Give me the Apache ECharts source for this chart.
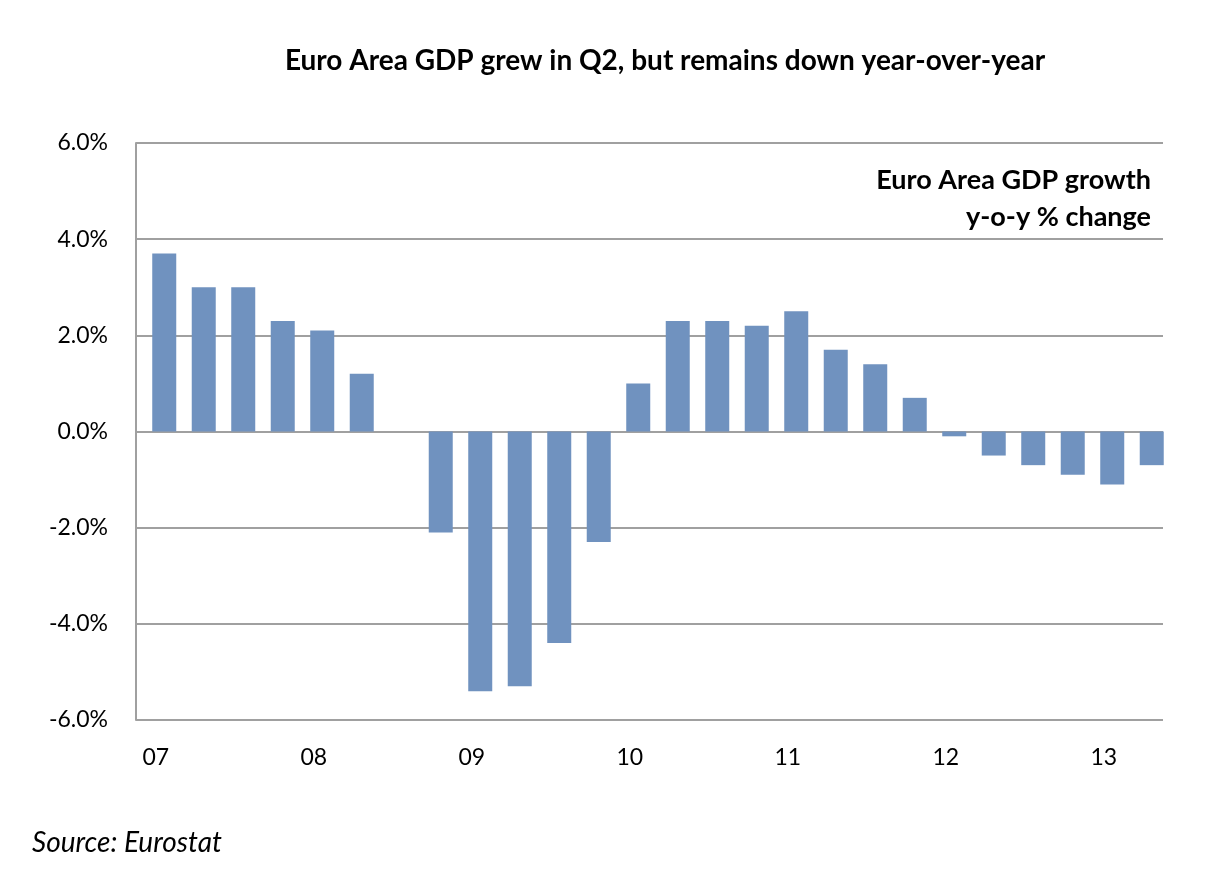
<!DOCTYPE html>
<html>
<head>
<meta charset="utf-8">
<title>Euro Area GDP</title>
<script src="https://cdn.jsdelivr.net/npm/echarts@6/dist/echarts.min.js"></script>
<style>
  html, body { margin: 0; padding: 0; background: #fff; }
  #main { width: 1208px; height: 886px; }
</style>
</head>
<body>
<div id="main"></div>
<script>
// quarters 2007 Q1 .. 2013 Q2
var quarters = [
  '07Q1','07Q2','07Q3','07Q4',
  '08Q1','08Q2','08Q3','08Q4',
  '09Q1','09Q2','09Q3','09Q4',
  '10Q1','10Q2','10Q3','10Q4',
  '11Q1','11Q2','11Q3','11Q4',
  '12Q1','12Q2','12Q3','12Q4',
  '13Q1','13Q2'
];
// y-o-y % change
var gdpGrowth = [
  3.7, 3.0, 3.0, 2.3,
  2.1, 1.2, 0.0, -2.1,
  -5.4, -5.3, -4.4, -2.3,
  1.0, 2.3, 2.3, 2.2,
  2.5, 1.7, 1.4, 0.7,
  -0.1, -0.5, -0.7, -0.9,
  -1.1, -0.7
];
var yTicks = [-6, -4, -2, 0, 2, 4, 6];

var FONT = 'Lato, "Open Sans", sans-serif';
var GRID_COLOR = '#a0a0a0';
// bars sit a little right of the category centre (date axis in the original)
var BAR_SHIFT = 0.215;

var chart = echarts.init(document.getElementById('main'));

var barData = gdpGrowth.map(function (v, i) {
  return [i + BAR_SHIFT, v];
});

chart.setOption({
  backgroundColor: '#fff',
  animation: false,
  textStyle: { fontFamily: FONT },
  title: [
    {
      text: 'Euro Area GDP grew in Q2, but remains down year-over-year',
      left: 660, top: 42, textAlign: 'center',
      textStyle: { fontFamily: FONT, fontSize: 28, fontWeight: 'bold', color: '#000' }
    },
    {
      text: 'Euro Area GDP growth\ny-o-y % change',
      left: 1146, top: 157, textAlign: 'right',
      textStyle: { fontFamily: FONT, fontSize: 27, fontWeight: 'bold', color: '#000', lineHeight: 37, align: 'right' }
    },
    {
      text: 'Source: Eurostat',
      left: 27, top: 824,
      textStyle: { fontFamily: FONT, fontSize: 28, fontStyle: 'italic', fontWeight: 'normal', color: '#000' }
    }
  ],
  grid: { left: 136, right: 45, top: 143, bottom: 166, containLabel: false },
  xAxis: [
    {
      type: 'category',
      data: quarters,
      boundaryGap: true,
      axisLine: { show: false },
      axisTick: { show: false },
      splitLine: { show: false },
      axisLabel: {
        interval: 3,
        margin: 26,
        fontSize: 23,
        fontFamily: FONT,
        color: '#000',
        formatter: function (q) { return q.slice(0, 2); }
      }
    },
    {
      type: 'value',
      min: -0.5, max: quarters.length - 0.5,
      show: false,
      position: 'bottom'
    }
  ],
  yAxis: {
    type: 'value',
    min: yTicks[0], max: yTicks[yTicks.length - 1], interval: 2,
    axisLine: { show: true, onZero: false, lineStyle: { color: GRID_COLOR, width: 2 } },
    axisTick: { show: false },
    splitLine: { show: true, lineStyle: { color: GRID_COLOR, width: 2 } },
    axisLabel: {
      margin: 28,
      fontSize: 23,
      fontFamily: FONT,
      color: '#000',
      formatter: function (v) { return v.toFixed(1) + '%'; }
    }
  },
  series: [{
    name: 'Euro Area GDP growth',
    type: 'bar',
    xAxisIndex: 1,
    barWidth: 24,
    data: barData,
    itemStyle: { color: '#7092BF' }
  }]
});
</script>
</body>
</html>
